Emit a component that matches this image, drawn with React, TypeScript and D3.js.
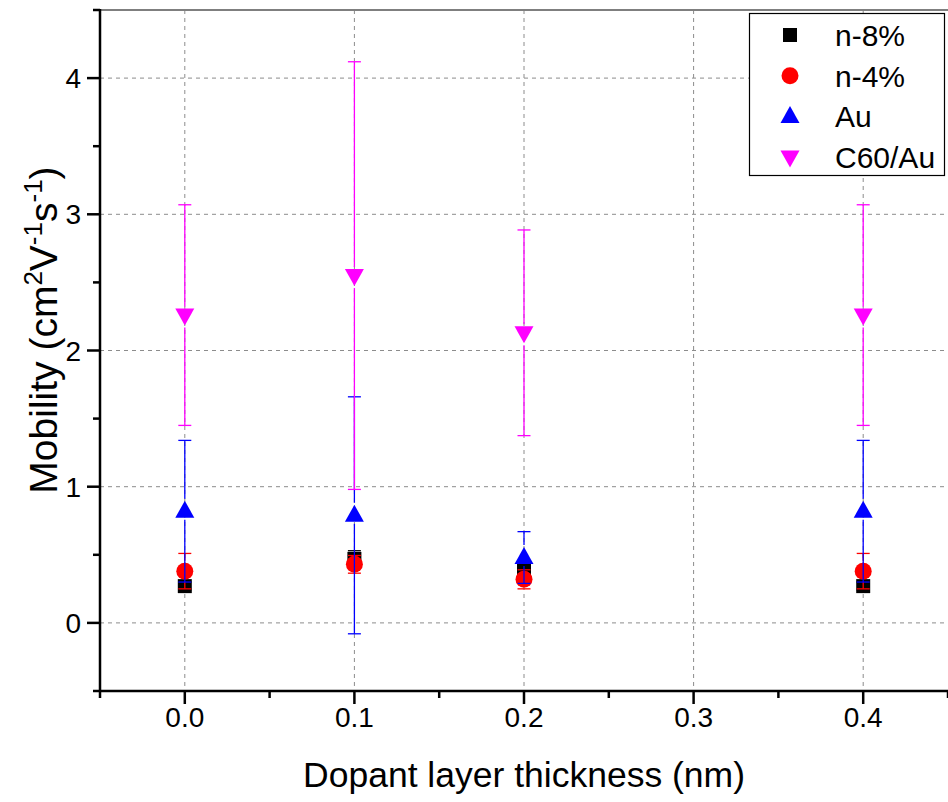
import React from "react";
import * as d3 from "d3";

const xValues = [0.0, 0.1, 0.2, 0.4];
const seriesNames = ["n-8%", "n-4%", "Au", "C60/Au"];
const n8Mean = [0.27, 0.47, 0.4, 0.27];
const n8Err = [0.03, 0.06, 0.05, 0.03];
const n4Mean = [0.38, 0.43, 0.32, 0.38];
const n4Err = [0.13, 0.065, 0.07, 0.13];
const auMean = [0.82, 0.79, 0.48, 0.82];
const auErr = [0.52, 0.87, 0.19, 0.52];
const c60Mean = [2.26, 2.55, 2.13, 2.26];
const c60Err = [0.81, 1.57, 0.755, 0.81];
const xTicks = [0.0, 0.1, 0.2, 0.3, 0.4];
const yTicks = [0, 1, 2, 3, 4];

const colors = ["#000000", "#ff0000", "#0000ff", "#ff00ff"];
const shapes = ["square", "circle", "up", "down"];

const W = 948;
const H = 802;
const left = 100;
const right = 948;
const top = 10;
const bottom = 691;

function markerPath(shape: string, cx: number, cy: number): string {
  const p = d3.path();
  if (shape === "square") {
    const s = 7;
    p.rect(cx - s, cy - s, 2 * s, 2 * s);
  } else if (shape === "circle") {
    p.moveTo(cx + 8.5, cy);
    p.arc(cx, cy, 8.5, 0, Math.PI * 2);
  } else if (shape === "up") {
    p.moveTo(cx, cy - 10.5);
    p.lineTo(cx + 9.5, cy + 6.5);
    p.lineTo(cx - 9.5, cy + 6.5);
    p.closePath();
  } else {
    p.moveTo(cx, cy + 10.5);
    p.lineTo(cx + 9.5, cy - 6.5);
    p.lineTo(cx - 9.5, cy - 6.5);
    p.closePath();
  }
  return p.toString();
}

function halfExtent(shape: string): [number, number] {
  if (shape === "square") return [7, 7];
  if (shape === "circle") return [8.5, 8.5];
  if (shape === "up") return [10.5, 6.5];
  return [6.5, 10.5];
}

export default function App() {
  const x = d3.scaleLinear().domain([-0.05, 0.45]).range([left, right]);
  const y = d3.scaleLinear().domain([-0.5, 4.5]).range([bottom, top]);
  const means = [n8Mean, n4Mean, auMean, c60Mean];
  const errs = [n8Err, n4Err, auErr, c60Err];
  const xMinor = d3.range(-0.05, 0.451, 0.1);
  const yMinor = d3.range(-0.5, 4.51, 1);
  const font = "Liberation Sans, Arial, sans-serif";
  const gridColor = "#8c8c8c";

  return (
    <div style={{ position: "absolute", left: 0, top: 0 }}>
      <svg width={W} height={H} style={{ display: "block", background: "#fff" }}>
        {/* grid */}
        {yTicks.map((t) => (
          <line key={"gy" + t} x1={left} x2={right} y1={y(t)} y2={y(t)} stroke={gridColor} strokeWidth={1} strokeDasharray="4,4" />
        ))}
        {xTicks.map((t) => (
          <line key={"gx" + t} x1={x(t)} x2={x(t)} y1={top} y2={bottom} stroke={gridColor} strokeWidth={1} strokeDasharray="4,4" />
        ))}
        {/* top border */}
        <line x1={left} x2={right} y1={top} y2={top} stroke="#7f7f7f" strokeWidth={2} />
        {/* data */}
        {means.map((m, si) => (
          <g key={"s" + si}>
            {m.map((v, i) => {
              const cx = x(xValues[i]);
              const cy = y(v);
              const yHi = y(v + errs[si][i]);
              const yLo = y(v - errs[si][i]);
              const [ht, hb] = halfExtent(shapes[si]);
              const gap = 2;
              const c = colors[si];
              return (
                <g key={i}>
                  {cy - ht - gap > yHi && (
                    <line x1={cx} x2={cx} y1={yHi} y2={cy - ht - gap} stroke={c} strokeWidth={1.3} />
                  )}
                  {cy + hb + gap < yLo && (
                    <line x1={cx} x2={cx} y1={cy + hb + gap} y2={yLo} stroke={c} strokeWidth={1.3} />
                  )}
                  <line x1={cx - 6.5} x2={cx + 6.5} y1={yHi} y2={yHi} stroke={c} strokeWidth={1.3} />
                  <line x1={cx - 6.5} x2={cx + 6.5} y1={yLo} y2={yLo} stroke={c} strokeWidth={1.3} />
                  <path d={markerPath(shapes[si], cx, cy)} fill={c} />
                </g>
              );
            })}
          </g>
        ))}
        {/* axes */}
        <line x1={left} x2={left} y1={top - 1} y2={bottom + 1} stroke="#000" strokeWidth={2.5} />
        <line x1={left - 1} x2={right} y1={bottom} y2={bottom} stroke="#000" strokeWidth={2.5} />
        {yTicks.map((t) => (
          <g key={"yt" + t}>
            <line x1={left - 13} x2={left} y1={y(t)} y2={y(t)} stroke="#000" strokeWidth={2.5} />
            <text x={left - 19} y={y(t)} dy="0.36em" textAnchor="end" fontFamily={font} fontSize={28}>
              {t}
            </text>
          </g>
        ))}
        {yMinor.map((t) => (
          <line key={"ym" + t} x1={left - 7} x2={left} y1={y(t)} y2={y(t)} stroke="#000" strokeWidth={2.5} />
        ))}
        {xTicks.map((t) => (
          <g key={"xt" + t}>
            <line x1={x(t)} x2={x(t)} y1={bottom} y2={bottom + 13} stroke="#000" strokeWidth={2.5} />
            <text x={x(t)} y={bottom + 36} textAnchor="middle" fontFamily={font} fontSize={28}>
              {t.toFixed(1)}
            </text>
          </g>
        ))}
        {xMinor.map((t) => (
          <line key={"xm" + t} x1={x(t)} x2={x(t)} y1={bottom} y2={bottom + 7} stroke="#000" strokeWidth={2.5} />
        ))}
        {/* axis titles */}
        <text x={524} y={787} textAnchor="middle" fontFamily={font} fontSize={35.5}>
          Dopant layer thickness (nm)
        </text>
        <text transform={`translate(57, 330) rotate(-90)`} textAnchor="middle" fontFamily={font} fontSize={39}>
          Mobility (cm<tspan baselineShift="super" fontSize={26}>2</tspan>V<tspan baselineShift="super" fontSize={26}>-1</tspan>s<tspan baselineShift="super" fontSize={26}>-1</tspan>)
        </text>
        {/* legend */}
        <rect x={749.5} y={13.5} width={195} height={162} fill="#fff" stroke="#000" strokeWidth={1.2} />
        {seriesNames.map((name, i) => {
          const ly = 35 + i * 40.7;
          return (
            <g key={"lg" + i}>
              <path d={markerPath(shapes[i], 790, ly)} fill={colors[i]} />
              <text x={835} y={ly} dy="0.36em" fontFamily={font} fontSize={30}>
                {name}
              </text>
            </g>
          );
        })}
      </svg>
    </div>
  );
}
